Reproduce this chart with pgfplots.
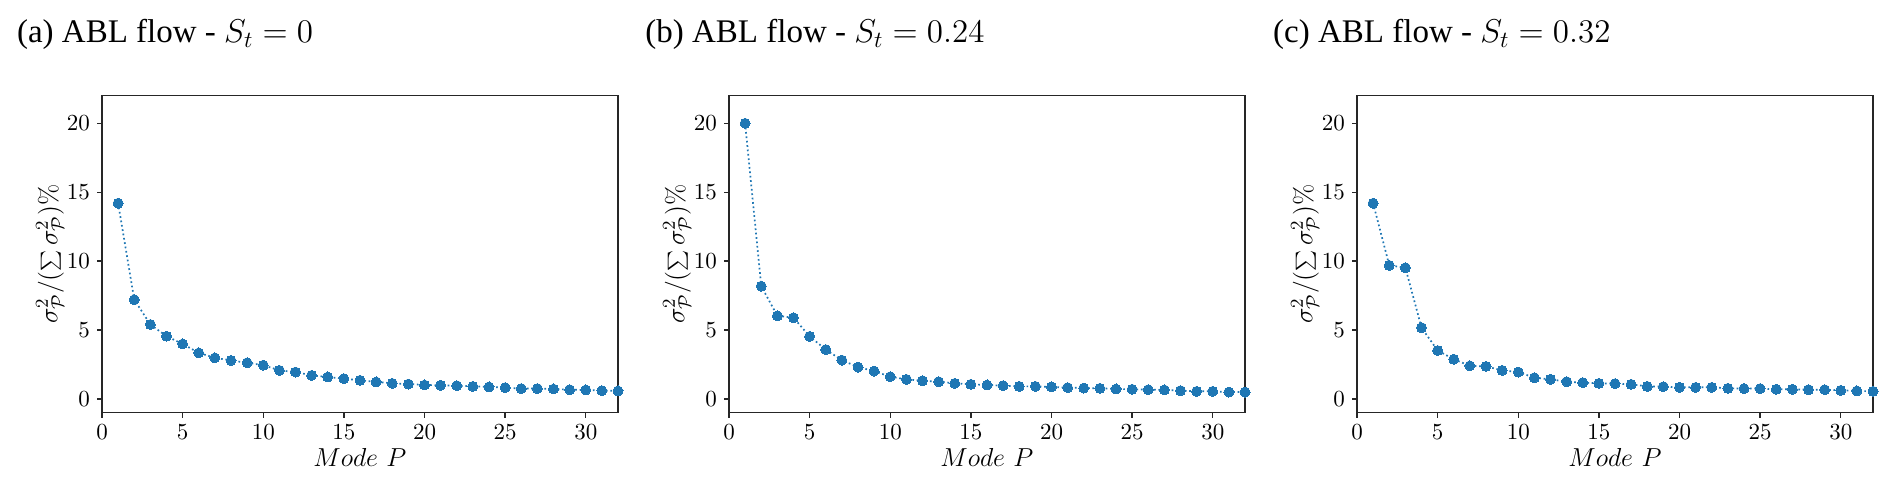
\RequirePackage{fix-cm}
\documentclass[border=0pt]{standalone}
\usepackage[no-math]{fontspec}
\usepackage{pgfplots}
\pgfplotsset{compat=1.18}
\newfontfamily\timesfont{Liberation Serif}
\definecolor{mplblue}{HTML}{1F77B4}

\pgfplotstableread{
x y
1 14.2
2 7.2
3 5.40
4 4.55
5 3.99
6 3.34
7 2.98
8 2.79
9 2.62
10 2.45
11 2.07
12 1.95
13 1.71
14 1.59
15 1.47
16 1.35
17 1.23
18 1.13
19 1.08
20 1.01
21 0.99
22 0.96
23 0.91
24 0.87
25 0.82
26 0.75
27 0.75
28 0.72
29 0.67
30 0.65
31 0.60
32 0.58
}\dataA

\pgfplotstableread{
x y
1 20.0
2 8.18
3 6.03
4 5.89
5 4.54
6 3.58
7 2.81
8 2.31
9 2.02
10 1.61
11 1.42
12 1.32
13 1.25
14 1.13
15 1.06
16 1.01
17 0.96
18 0.91
19 0.91
20 0.87
21 0.82
22 0.79
23 0.77
24 0.72
25 0.70
26 0.67
27 0.65
28 0.60
29 0.55
30 0.55
31 0.50
32 0.50
}\dataB

\pgfplotstableread{
x y
1 14.2
2 9.69
3 9.52
4 5.17
5 3.51
6 2.88
7 2.40
8 2.36
9 2.07
10 1.95
11 1.54
12 1.42
13 1.25
14 1.18
15 1.13
16 1.11
17 1.06
18 0.91
19 0.89
20 0.84
21 0.84
22 0.84
23 0.77
24 0.75
25 0.75
26 0.70
27 0.70
28 0.67
29 0.67
30 0.62
31 0.58
32 0.55
}\dataC

\pgfplotsset{
  panel/.style={
    scale only axis,
    width=258pt, height=158.5pt,
    anchor=south west,
    xmin=0, xmax=32, ymin=-1, ymax=22,
    xtick={0,5,...,30}, ytick={0,5,...,20},
    tick pos=left,
    tick align=outside,
    major tick length=2.5pt,
    axis line style={line width=0.65pt, black!85},
    every tick/.style={line width=0.65pt, black!85},
    tick label style={font=\fontsize{11.5}{13}\selectfont},
    xlabel={$Mode\ P$},
    ylabel={$\sigma^2_{\mathcal{P}}/(\sum\sigma^2_{\mathcal{P}})\%$},
    every axis x label/.style={at={(axis description cs:0.5,0)}, anchor=base, yshift=-27pt, font=\fontsize{13}{15}\selectfont},
    every axis y label/.style={at={(axis description cs:0,0.5)}, xshift=-26pt, rotate=90, anchor=center, font=\fontsize{13}{15}\selectfont},
    clip=false,
  },
  ser/.style={mplblue, line width=0.85pt, dash pattern=on 0.85pt off 1.35pt,
    mark=*, mark size=2.5pt, mark options={solid, fill=mplblue, draw=mplblue, line width=0pt}},
}

\begin{document}
\begin{tikzpicture}
\path[use as bounding box] (0,0) rectangle (946pt,243pt);

\node[anchor=base west, inner sep=0pt, font=\fontsize{16.5}{19}\selectfont\timesfont] at (8.35pt,221.6pt) {(a) ABL flow - $S_t = 0$};
\node[anchor=base west, inner sep=0pt, font=\fontsize{16.5}{19}\selectfont\timesfont] at (322.5pt,221.6pt) {(b) ABL flow - $S_t = 0.24$};
\node[anchor=base west, inner sep=0pt, font=\fontsize{16.5}{19}\selectfont\timesfont] at (636.4pt,221.6pt) {(c) ABL flow - $S_t = 0.32$};

\begin{axis}[panel, at={(51pt,36.65pt)}]
\addplot[ser] table {\dataA};
\end{axis}
\begin{axis}[panel, at={(364.5pt,36.65pt)}]
\addplot[ser] table {\dataB};
\end{axis}
\begin{axis}[panel, at={(678.5pt,36.65pt)}]
\addplot[ser] table {\dataC};
\end{axis}
\end{tikzpicture}
\end{document}
